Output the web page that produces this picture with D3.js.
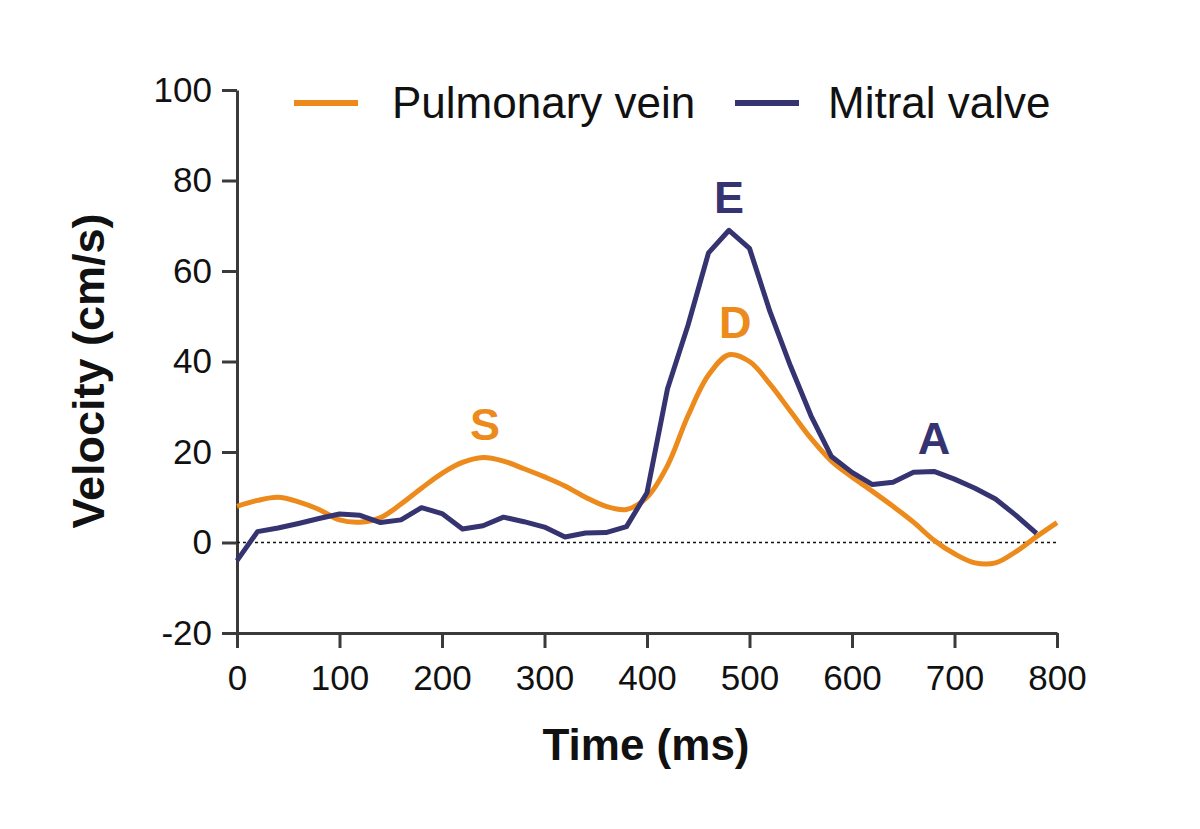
<!DOCTYPE html>
<html>
<head>
<meta charset="utf-8">
<script src="https://cdn.jsdelivr.net/npm/d3@7"></script>
<style>
  body { margin: 0; background: #fff; }
  svg { font-family: "Liberation Sans", Arial, sans-serif; }
</style>
</head>
<body>
<div id="chart"></div>
<script>
// Time points (ms)
const timeMs = [0, 20, 40, 60, 80, 100, 120, 140, 160, 180, 200, 220, 240, 260, 280, 300,
  320, 340, 360, 380, 400, 420, 440, 460, 480, 500, 520, 540, 560, 580, 600, 620, 640,
  660, 680, 700, 720, 740, 760, 780, 800];

// Pulmonary vein velocity (cm/s)
const pulmonaryVein = [8, 9.3, 10, 9, 7.3, 5, 4.5, 5.5, 8.5, 12, 15.3, 17.7, 18.8, 18, 16.3, 14.5,
  12.5, 10, 8, 7.3, 10, 17, 28, 37, 41.5, 40, 35, 29, 23, 18, 14.5, 11.3, 8,
  4.5, 0.5, -2.5, -4.5, -4.5, -2, 1.3, 4.4];

// Mitral valve velocity (cm/s), ends at 780 ms
const mitralValve = [-4, 2.4, 3.2, 4.2, 5.3, 6.3, 6, 4.4, 5, 7.7, 6.4, 3, 3.7, 5.6, 4.6, 3.4,
  1.2, 2.1, 2.2, 3.5, 11, 34, 48, 64, 69, 65, 51, 39, 28, 19, 15.5, 12.8, 13.3,
  15.5, 15.7, 14, 12, 9.6, 6, 2];

const xTicks = [0, 100, 200, 300, 400, 500, 600, 700, 800];
const yTicks = [-20, 0, 20, 40, 60, 80, 100];

const seriesNames = ['Pulmonary vein', 'Mitral valve'];
const peakLabels = [
  { text: 'S', t: 242, v: 18.8, series: 0 },
  { text: 'D', t: 486, v: 41.5, series: 0 },
  { text: 'E', t: 480, v: 69, series: 1 },
  { text: 'A', t: 680, v: 15.7, series: 1 }
];

const orange = '#ec8a1c';
const navy = '#363371';
const colors = [orange, navy];

const width = 1200;
const height = 829;
const margin = { top: 90, right: 143, bottom: 196, left: 237 };

const svg = d3.select('#chart')
  .append('svg')
  .attr('width', width)
  .attr('height', height);

const x = d3.scaleLinear()
  .domain([0, 800])
  .range([margin.left, width - margin.right]);

const y = d3.scaleLinear()
  .domain([-20, 100])
  .range([height - margin.bottom, margin.top]);

// Y axis
const yAxis = svg.append('g')
  .attr('transform', `translate(${margin.left}, 0)`)
  .call(d3.axisLeft(y).tickValues(yTicks).tickFormat(d => String(d))
    .tickSize(15).tickPadding(10).tickSizeOuter(0));

// X axis
const xAxis = svg.append('g')
  .attr('transform', `translate(0, ${height - margin.bottom})`)
  .call(d3.axisBottom(x).tickValues(xTicks).tickFormat(d => String(d))
    .tickSize(15).tickPadding(17).tickSizeOuter(0));

[yAxis, xAxis].forEach(ax => {
  ax.select('.domain').attr('stroke', '#3a3a3a').attr('stroke-width', 3);
  ax.selectAll('.tick line').attr('stroke', '#3a3a3a').attr('stroke-width', 3);
  ax.selectAll('.tick text')
    .attr('fill', '#111')
    .attr('font-size', 35);
});

// Zero reference line
svg.append('line')
  .attr('x1', x(0))
  .attr('x2', x(800))
  .attr('y1', y(0))
  .attr('y2', y(0))
  .attr('stroke', '#111')
  .attr('stroke-width', 1.5)
  .attr('stroke-dasharray', '3,3');

// Pulmonary vein curve (smooth)
const pvLine = d3.line()
  .x((d, i) => x(timeMs[i]))
  .y(d => y(d))
  .curve(d3.curveCatmullRom.alpha(0.5));

svg.append('path')
  .datum(pulmonaryVein)
  .attr('fill', 'none')
  .attr('stroke', orange)
  .attr('stroke-width', 5)
  .attr('stroke-linejoin', 'round')
  .attr('d', pvLine);

// Mitral valve polyline
const mvLine = d3.line()
  .x((d, i) => x(timeMs[i]))
  .y(d => y(d));

svg.append('path')
  .datum(mitralValve)
  .attr('fill', 'none')
  .attr('stroke', navy)
  .attr('stroke-width', 5)
  .attr('stroke-linejoin', 'round')
  .attr('d', mvLine);

// Peak labels
svg.selectAll('.peak')
  .data(peakLabels)
  .enter()
  .append('text')
  .attr('class', 'peak')
  .attr('x', d => x(d.t))
  .attr('y', d => y(d.v) - 17)
  .attr('text-anchor', 'middle')
  .attr('fill', d => colors[d.series])
  .attr('font-size', 45)
  .attr('font-weight', 'bold')
  .text(d => d.text);

// Legend
const legendX = [294, 735];
const legendTextX = [392, 828];
seriesNames.forEach((name, i) => {
  svg.append('line')
    .attr('x1', legendX[i])
    .attr('x2', legendX[i] + 64)
    .attr('y1', 103)
    .attr('y2', 103)
    .attr('stroke', colors[i])
    .attr('stroke-width', 6);
  svg.append('text')
    .attr('x', legendTextX[i])
    .attr('y', 118)
    .attr('fill', '#111')
    .attr('font-size', 44)
    .text(name);
});

// Axis titles
svg.append('text')
  .attr('x', 646)
  .attr('y', 760)
  .attr('text-anchor', 'middle')
  .attr('fill', '#111')
  .attr('font-size', 44)
  .attr('font-weight', 'bold')
  .text('Time (ms)');

svg.append('text')
  .attr('transform', `translate(104, 371) rotate(-90)`)
  .attr('text-anchor', 'middle')
  .attr('fill', '#111')
  .attr('font-size', 45)
  .attr('font-weight', 'bold')
  .text('Velocity (cm/s)');
</script>
</body>
</html>
